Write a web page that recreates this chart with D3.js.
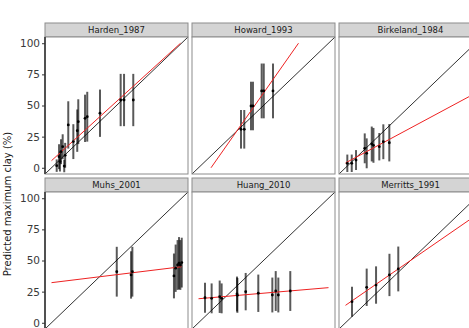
<!DOCTYPE html>
<head>
  <meta charset="utf-8">
  <script src="https://d3js.org/d3.v7.min.js"></script>
  <style>
    body { margin: 0; background: #fff; }
    text { font-family: "DejaVu Sans", sans-serif; }
  </style>
</head>
<body>
  <div id="chart"></div>
  <script>
    // Studies, one panel each (row by row)
    var studies = ["Harden_1987", "Howard_1993", "Birkeland_1984",
                   "Muhs_2001", "Huang_2010", "Merritts_1991"];

    // Observed clay (x), predicted clay (y) and half-width of the error bar
    var observed = [
      [4, 5.8, 7.3, 8.6, 9.8, 6.5, 10.5, 12.9, 16.8, 19.8, 20.6, 25.8, 27.5, 37.3, 53.2, 55.8, 62.9],
      [32.7, 35.2, 40.4, 41.9, 48.6, 50.2, 57.3],
      [1.4, 4.8, 8.1, 14.8, 16.3, 20.2, 21.5, 26, 29.1, 33.7],
      [50.2, 61.2, 62.2, 94.2, 95.5, 97, 98.1, 99.1, 100.2],
      [5, 10.1, 16.3, 17.8, 29.6, 29.9, 36.3, 46, 56.8, 59.4, 61.4, 70.6],
      [5, 16.3, 23.5, 33.8, 40.6]
    ];
    var predicted = [
      [1.7, 8.9, 12.9, 16.9, 1.4, 5, 10, 34.4, 21, 29.8, 37, 39.7, 41, 43.8, 54.4, 54.4, 54.4],
      [30.9, 30.9, 49.6, 49.6, 61.7, 61.7, 61.7],
      [3.6, 3.6, 6.2, 15.6, 11.6, 19.1, 18, 16.9, 20.9, 20.1],
      [41, 38.4, 41, 37.6, 43.8, 46.4, 47.8, 46.4, 48.3],
      [20.1, 19.6, 20.9, 19.6, 23.1, 22, 25, 23.7, 22.3, 25.5, 22.3, 25.5],
      [16.9, 28.5, 30.3, 38.4, 43.2]
    ];
    var errHalf = [
      [5, 10, 10, 10, 5, 8, 10, 19, 14, 17, 18, 19, 20, 19, 21, 21, 21],
      [15.5, 15.5, 19.5, 19.5, 22, 22, 22],
      [7, 7, 8, 12, 12, 14, 14, 11, 14, 15],
      [20, 19, 20, 18, 19, 20, 21, 20, 20],
      [12, 12, 13, 12, 14, 14, 15, 15, 14, 16, 14, 16],
      [12, 15, 15, 17, 18]
    ];

    // Red fitted line per study
    var fitIntercept = [5.7, -14.3, 3.9, 32.2, 19.3, 14];
    var fitSlope = [0.95, 1.486, 0.56, 0.128, 0.089, 0.72];

    var yTicks = [0, 25, 50, 75, 100];

    var W = 469, H = 328;
    var panelW = 143, panelH = 137, stripH = 14;
    var colX = [45, 192, 339];
    var rowY = [37, 192];

    var svg = d3.select("#chart").append("svg")
        .attr("width", W)
        .attr("height", H);

    var x = d3.scaleLinear().domain([-5, 105]).range([0, panelW]);
    var y = d3.scaleLinear().domain([-5, 105]).range([panelH, 0]);

    studies.forEach(function(name, i) {
        var px = colX[i % 3], py = rowY[Math.floor(i / 3)];
        var g = svg.append("g").attr("transform", "translate(" + px + "," + py + ")");

        // strip
        g.append("rect")
            .attr("x", 0).attr("y", -stripH)
            .attr("width", panelW).attr("height", stripH)
            .style("fill", "#d4d4d4")
            .style("stroke", "#8c8c8c")
            .style("stroke-width", 1);
        g.append("text")
            .attr("x", panelW / 2).attr("y", -stripH / 2 + 3.2)
            .attr("text-anchor", "middle")
            .style("font-size", "8.5px")
            .style("fill", "#1a1a1a")
            .text(name);

        // panel
        g.append("rect")
            .attr("width", panelW).attr("height", panelH)
            .style("fill", "#fff");

        g.append("clipPath").attr("id", "clip" + i)
            .append("rect").attr("width", panelW).attr("height", panelH);
        var inner = g.append("g").attr("clip-path", "url(#clip" + i + ")");

        // 1:1 line
        inner.append("line")
            .attr("x1", x(-5)).attr("y1", y(-5))
            .attr("x2", x(105)).attr("y2", y(105))
            .style("stroke", "#1a1a1a")
            .style("stroke-width", 0.9);

        // error bars
        observed[i].forEach(function(o, j) {
            var p = predicted[i][j], e = errHalf[i][j];
            inner.append("line")
                .attr("x1", x(o)).attr("x2", x(o))
                .attr("y1", y(p - e)).attr("y2", y(p + e))
                .style("stroke", "#000")
                .style("stroke-opacity", 0.65)
                .style("stroke-width", 2);
        });

        // fitted line, kept inside 0..100 on both axes
        var a = fitIntercept[i], b = fitSlope[i];
        var x0 = Math.max(0, (0 - a) / b), x1 = Math.min(100, (100 - a) / b);
        inner.append("line")
            .attr("x1", x(x0)).attr("y1", y(a + b * x0))
            .attr("x2", x(x1)).attr("y2", y(a + b * x1))
            .style("stroke", "#ee2222")
            .style("stroke-width", 1);

        // points
        observed[i].forEach(function(o, j) {
            inner.append("circle")
                .attr("cx", x(o)).attr("cy", y(predicted[i][j]))
                .attr("r", 1.4)
                .style("fill", "#000");
        });

        g.append("rect")
            .attr("width", panelW).attr("height", panelH)
            .style("fill", "none")
            .style("stroke", "#8c8c8c")
            .style("stroke-width", 1);

        // y axis on first column
        if (i % 3 === 0) {
            var ax = g.append("g")
                .call(d3.axisLeft(y).tickValues(yTicks).tickSize(3).tickPadding(2));
            ax.select(".domain").attr("d", "M0,0V" + panelH)
                .style("stroke", "#444").style("stroke-width", 1.8);
            ax.selectAll(".tick line").style("stroke", "#333");
            ax.selectAll(".tick text")
                .style("font-size", "10.5px")
                .style("fill", "#3a3a3a")
                .style("font-family", "DejaVu Sans, sans-serif");
        }
    });

    // y axis title
    svg.append("text")
        .attr("transform", "translate(11,204) rotate(-90)")
        .attr("text-anchor", "middle")
        .style("font-size", "10px")
        .style("fill", "#1a1a1a")
        .text("Predicted maximum clay (%)");
  </script>
</body>
